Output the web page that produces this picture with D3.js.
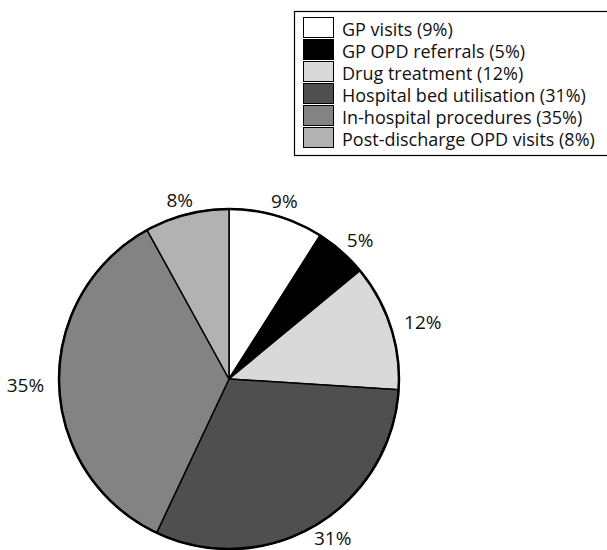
<!DOCTYPE html>
<html>
<head>
<meta charset="utf-8">
<script src="https://cdn.jsdelivr.net/npm/d3@7"></script>
<style>
  html, body { margin: 0; padding: 0; background: #fff; }
  svg { display: block; }
  text { font-family: "Open Sans", "DejaVu Sans", sans-serif; fill: #111; }
</style>
</head>
<body>
<svg id="chart" width="607" height="550"></svg>
<script>
// Cost components, share of total (%)
const categories = [
  "GP visits",
  "GP OPD referrals",
  "Drug treatment",
  "Hospital bed utilisation",
  "In-hospital procedures",
  "Post-discharge OPD visits"
];
const shares = [9, 5, 12, 31, 35, 8];
const fills = ["#ffffff", "#000000", "#d9d9d9", "#4f4f4f", "#838383", "#b2b2b2"];

const data = categories.map((c, i) => ({ name: c, value: shares[i], fill: fills[i] }));

const svg = d3.select("#chart");
const W = 607, H = 550;
const cx = 229, cy = 379, R = 170;

const pie = d3.pie().value(d => d.value).sort(null);
const arc = d3.arc().innerRadius(0).outerRadius(R);
const arcs = pie(data);

const g = svg.append("g").attr("transform", `translate(${cx},${cy})`);

g.selectAll("path.slice")
  .data(arcs)
  .join("path")
  .attr("class", "slice")
  .attr("d", arc)
  .attr("fill", d => d.data.fill)
  .attr("stroke", "#000")
  .attr("stroke-width", 1.5)
  .attr("stroke-linejoin", "round");

// outer rim drawn a little heavier
g.append("circle")
  .attr("r", R)
  .attr("fill", "none")
  .attr("stroke", "#000")
  .attr("stroke-width", 2.5);

// percentage labels outside each slice, pushed outward by half their width
const labelR = 185;
g.selectAll("text.pct")
  .data(arcs)
  .join("text")
  .attr("class", "pct")
  .attr("font-size", 19)
  .attr("text-anchor", "middle")
  .attr("dominant-baseline", "central")
  .text(d => d.data.value + "%")
  .each(function (d) {
    const a = (d.startAngle + d.endAngle) / 2;
    const w = this.getComputedTextLength();
    const s = Math.sin(a), c = Math.cos(a);
    d3.select(this)
      .attr("x", labelR * s + s * w / 2)
      .attr("y", -labelR * c);
  });

// legend
const lx = 294, ly = 11, rowH = 22;
const legend = svg.append("g").attr("transform", `translate(${lx},${ly})`);
legend.append("rect")
  .attr("x", 0.5).attr("y", 0.5)
  .attr("width", W - lx + 5).attr("height", 6 + rowH * data.length + 6)
  .attr("fill", "#fff")
  .attr("stroke", "#000")
  .attr("stroke-width", 1.2);

const rows = legend.selectAll("g.row")
  .data(data)
  .join("g")
  .attr("class", "row")
  .attr("transform", (d, i) => `translate(9,${6 + i * rowH})`);

rows.append("rect")
  .attr("x", 0.5).attr("y", 0.5)
  .attr("width", 30).attr("height", 20)
  .attr("fill", d => d.fill)
  .attr("stroke", "#000")
  .attr("stroke-width", 1);

rows.append("text")
  .attr("x", 39)
  .attr("y", 12)
  .attr("dominant-baseline", "central")
  .attr("font-size", 18)
  .text(d => `${d.name} (${d.value}%)`);
</script>
</body>
</html>
